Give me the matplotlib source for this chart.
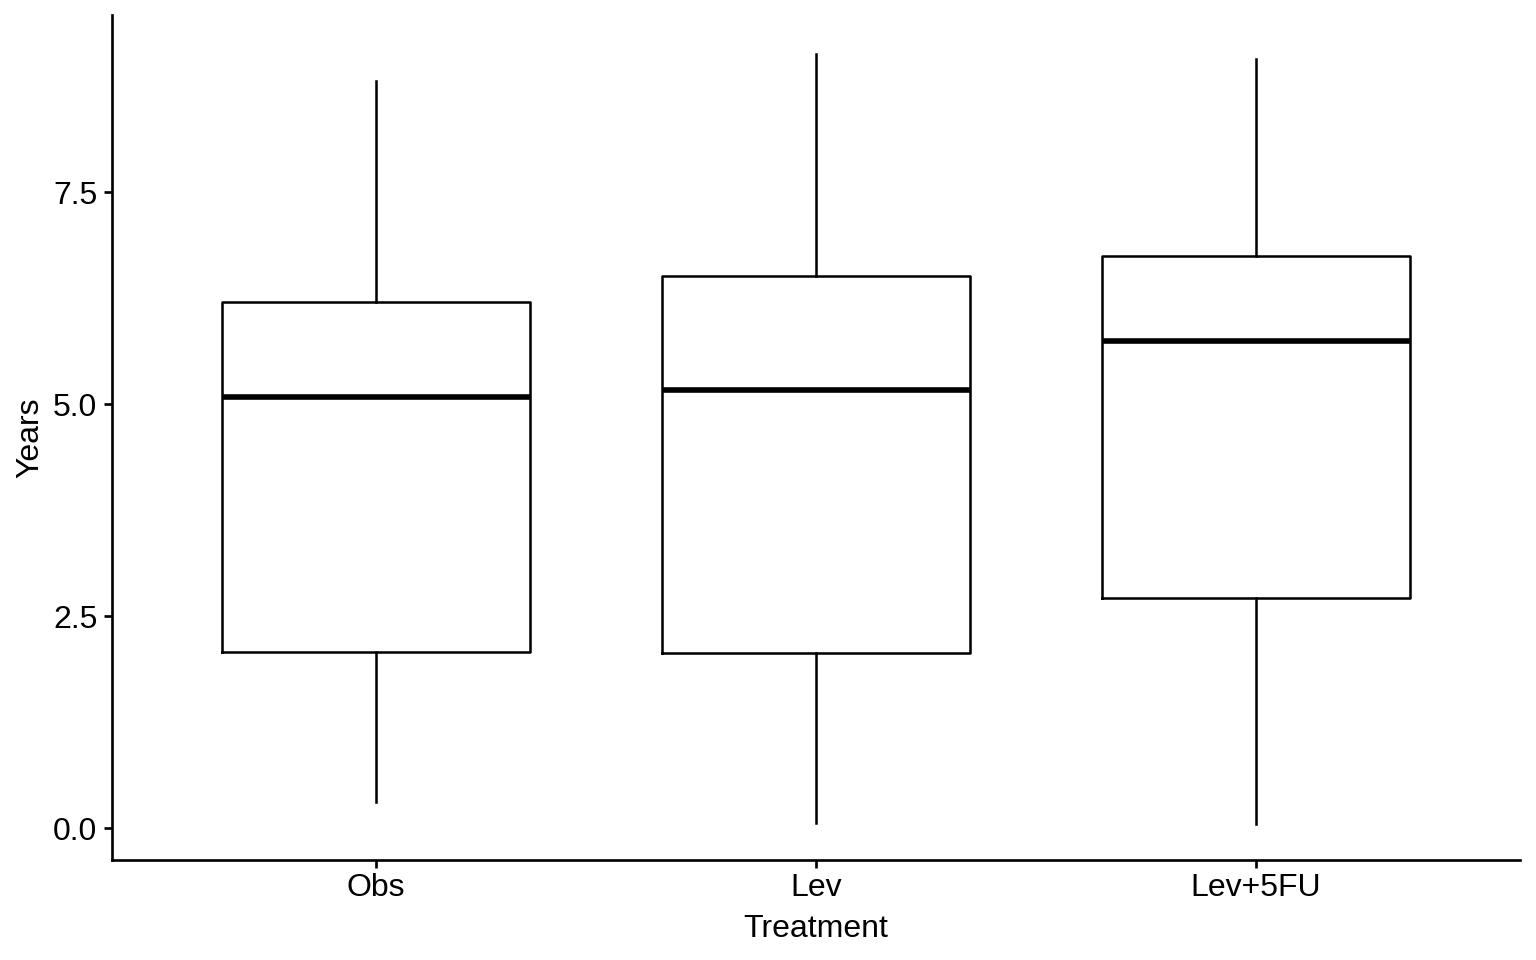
import matplotlib
matplotlib.use("Agg")
import matplotlib.pyplot as plt

categories = ["Obs", "Lev", "Lev+5FU"]
whislo = [0.31, 0.06, 0.05]
q1 = [2.08, 2.06, 2.71]
med = [5.08, 5.17, 5.75]
q3 = [6.21, 6.51, 6.75]
whishi = [8.81, 9.13, 9.07]
yticks = [0.0, 2.5, 5.0, 7.5]

plt.rcParams['font.family'] = ['Liberation Sans', 'DejaVu Sans']

fig = plt.figure(figsize=(16, 10), dpi=96)
ax = fig.add_axes([112/1536, 100/960, (1520-112)/1536, (860-15)/960])

stats = []
for i, c in enumerate(categories):
    stats.append(dict(label=c, whislo=whislo[i], q1=q1[i], med=med[i], q3=q3[i], whishi=whishi[i], fliers=[]))

ax.bxp(stats, positions=[1, 2, 3], widths=0.7, showcaps=False, showfliers=False,
       boxprops=dict(color='black', linewidth=1.9),
       whiskerprops=dict(color='black', linewidth=1.9),
       medianprops=dict(color='black', linewidth=4.2))

ax.set_xlim(0.4, 3.6)
ax.set_ylim(-0.377, 9.59)
ax.set_yticks(yticks)
ax.set_yticklabels([f"{v:.1f}" for v in yticks])
ax.set_xticks([1, 2, 3])
ax.set_xticklabels(categories)
for s in ['top', 'right']:
    ax.spines[s].set_visible(False)
for s in ['left', 'bottom']:
    ax.spines[s].set_linewidth(2.0)
ax.tick_params(axis='both', length=6, width=2.0, labelsize=24, color='black', labelcolor='black')
ax.tick_params(axis='x', pad=4)
ax.tick_params(axis='y', pad=5)
ax.set_xlabel("Treatment", fontsize=24, labelpad=8)
ax.set_ylabel("Years", fontsize=24, labelpad=6)

fig.savefig("out.png", dpi=96)
